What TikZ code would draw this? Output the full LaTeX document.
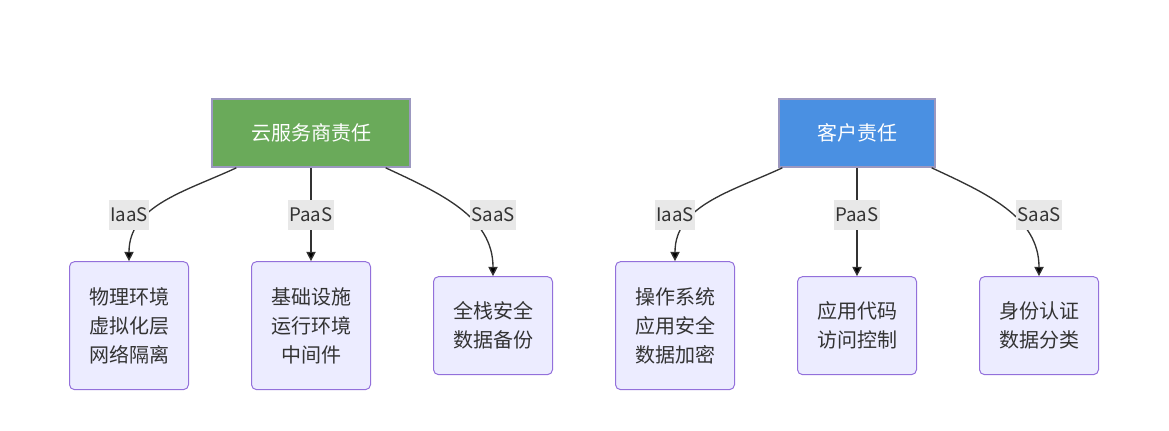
\documentclass[tikz,border=0pt]{standalone}
\usepackage{fontspec}
\setmainfont{Noto Sans CJK SC}
\usetikzlibrary{positioning,arrows.meta}
\definecolor{cloudgreen}{HTML}{6AAA5A}
\definecolor{custblue}{HTML}{4A90E2}
\definecolor{leaffill}{HTML}{ECECFF}
\definecolor{leafline}{HTML}{9370DB}
\definecolor{toprim}{HTML}{9C98C0}
\definecolor{ink}{HTML}{333333}
\definecolor{lblfill}{HTML}{E8E8E8}

\begin{document}
\begin{tikzpicture}[x=0.75pt, y=-0.75pt, node distance=70pt and 46.5pt,
    owner/.style={draw=toprim, line width=1.2pt, text=white, minimum height=51pt,
        font=\fontsize{15}{18}\selectfont},
    duty/.style={draw=leafline, fill=leaffill, line width=0.75pt, rounded corners=3.75pt,
        text=ink, minimum width=89.25pt, align=center, font=\fontsize{15}{21.75}\selectfont},
    dutytall/.style={duty, minimum height=96pt},
    dutyshort/.style={duty, minimum height=73.5pt},
    model/.style={fill=lblfill, text=ink, inner xsep=1pt, inner ysep=0pt,
        minimum height=22.5pt, font=\fontsize{14}{17}\selectfont},
    link/.style={draw=ink, line width=1pt, -{Triangle[length=7pt,width=7pt]}}]
    \useasboundingbox (0,0) rectangle (1169,431);

    \node[owner, fill=cloudgreen, minimum width=148.5pt] (cloud) at (311,133) {云服务商责任};
    \node[owner, fill=custblue, minimum width=117pt] (user) at (857,133) {客户责任};

    \node[dutytall, below=of cloud] (l2) {基础设施\\运行环境\\中间件};
    \node[dutytall, left=of l2] (l1) {物理环境\\虚拟化层\\网络隔离};
    \node[dutyshort, right=of l2] (l3) {全栈安全\\数据备份};
    \node[dutytall, right=of l3] (r1) {操作系统\\应用安全\\数据加密};
    \node[dutyshort, right=of r1] (r2) {应用代码\\访问控制};
    \node[dutyshort, right=of r2] (r3) {身份认证\\数据分类};

    \path[link]
    (cloud) edge[out=-155, in=90] (l1)
    (cloud) edge (l2)
    (cloud) edge[out=-25, in=90] (l3)
    (user) edge[out=-155, in=90] (r1)
    (user) edge (r2)
    (user) edge[out=-25, in=90] (r3);

    % service model labels sit on top of the links
    \coordinate (tier) at (0,215);
    \node[model] (m1) at (l1 |- tier) {IaaS};
    \node[model] (m2) at (l2 |- tier) {PaaS};
    \node[model] (m3) at (l3 |- tier) {SaaS};
    \node[model] (m4) at (r1 |- tier) {IaaS};
    \node[model] (m5) at (r2 |- tier) {PaaS};
    \node[model] (m6) at (r3 |- tier) {SaaS};
\end{tikzpicture}
\end{document}
